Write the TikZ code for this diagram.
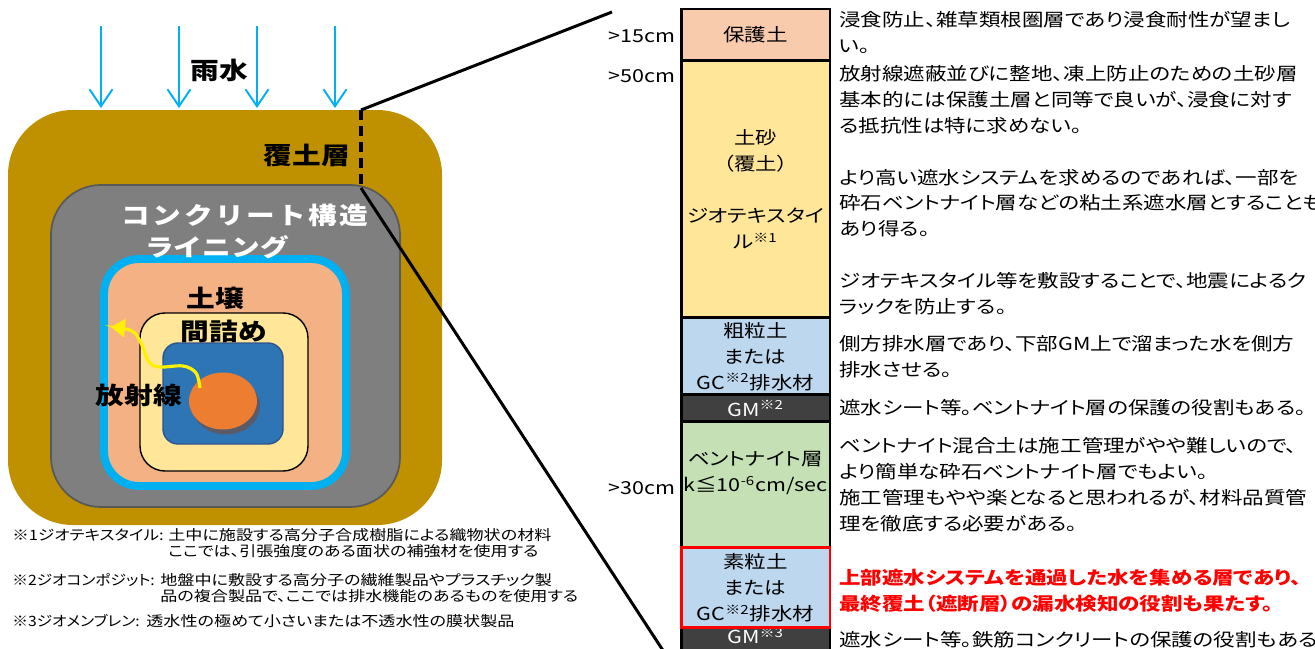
\documentclass[tikz,border=0pt]{standalone}
\usepackage{fontspec}
\setmainfont{Noto Sans CJK JP}[FakeStretch=1.2, RawFeature=+palt]
\newfontfamily\tagfont{Noto Sans CJK JP}[FakeStretch=1.2]
\usetikzlibrary{arrows.meta,shapes.geometric,positioning}

\definecolor{rainblue}{HTML}{00B0F0}
\definecolor{cover}{HTML}{BF9000}
\definecolor{concrete}{HTML}{7F7F7F}
\definecolor{concreteline}{HTML}{595959}
\definecolor{soil}{HTML}{F4B183}
\definecolor{filler}{HTML}{FFE699}
\definecolor{waste}{HTML}{2E75B6}
\definecolor{wasteline}{HTML}{2F528F}
\definecolor{source}{HTML}{ED7D31}
\definecolor{sourceshade}{HTML}{5B5B68}
\definecolor{hogo}{HTML}{F8CBAD}
\definecolor{sobi}{HTML}{BDD7EE}
\definecolor{gm}{HTML}{404040}
\definecolor{bento}{HTML}{C5E0B4}

\begin{document}
\begin{tikzpicture}[x=0.02cm, y=-0.02cm,
	rain/.style={draw=rainblue, line width=1.1pt, -{Straight Barb[length=0.34cm,width=0.46cm]}},
	tag/.style={inner sep=0pt, font=\tagfont\fontsize{13.6pt}{16pt}\selectfont\bfseries},
	cell/.style={draw, line width=1.7pt, minimum width=2.98cm, inner sep=0pt, outer sep=0pt,
		anchor=north, align=center},
	desc/.style={anchor=north west, align=left, inner sep=0pt},
	note/.style={anchor=west, inner sep=0pt, font=\fontsize{8.1pt}{9pt}\selectfont}]
	
	\useasboundingbox (0,0) rectangle (1315,649);
	
	\foreach \x in {101,179,257,335}
		\draw[rain] (\x,26) -- (\x,108);
	
	\fill[cover, rounded corners=1.3cm] (8,110) rectangle (442,525);
	\filldraw[fill=concrete, draw=concreteline, line width=1pt, rounded corners=1cm] (51,185) rectangle (400,507);
	\filldraw[fill=soil, draw=rainblue, line width=4.5pt, rounded corners=0.7cm] (104,259) rectangle (346,486);
	\filldraw[fill=filler, draw=black, line width=0.8pt, rounded corners=0.5cm] (140,313) rectangle (308,471);
	\filldraw[fill=waste, draw=wasteline, line width=0.8pt, rounded corners=0.3cm] (163,343) rectangle (283,444);
	
	\node[ellipse, fill=sourceshade, minimum width=1.36cm, minimum height=1.14cm] (shade) at (226,406) {};
	\node[ellipse, fill=source, minimum width=1.36cm, minimum height=1.14cm] (src) at (223,401) {};
	\coordinate (ray end) at (111,327);
	\draw[yellow, line width=1.8pt, -{Triangle[length=0.28cm,width=0.36cm]}]
		plot[smooth, tension=0.6] coordinates {(200,388) (196,373) (183,366) (160,367) (149,362) (141,343) (132,331) (ray end)};
	
	\begin{scope}[every node/.style={tag}]
	\node (ame) at (219,70) {雨水};
	\node (fukudo) at (307,155) {覆土層};
	\node[text=white] (conc) at (245,215) {\addfontfeature{LetterSpace=10}コンクリート構造};
	\node[text=white] (lining) at (217,247) {ライニング};
	\node (dojo) at (215,298) {土壌};
	\node (mazume) at (224,331) {間詰め};
	\node (hosha) at (139,395) {放射線};
	\end{scope}
	
	\coordinate (cut top) at (361,110);
	\coordinate (cut bot) at (361,188);
	\coordinate (zoom top) at (612,12);
	\coordinate (zoom bot) at (664,652);
	\draw[line width=2.2pt, dash pattern=on 0.2cm off 0.12cm] (cut top) -- (cut bot);
	\draw[line width=1.7pt] (cut top) -- (zoom top);
	\draw[line width=1.7pt] (cut bot) -- (zoom bot);
	
	\begin{scope}[every node/.style={font=\fontsize{10.2pt}{14.74pt}\selectfont}]
	\node[cell, fill=hogo, minimum height=1.04cm] (hogo) at (755.5,9) {保護土};
	\node[cell, fill=filler, minimum height=5.14cm] (dosha) at (hogo.south)
		{土砂\\（覆土）\\[14.74pt]ジオテキスタイ\\ル\textsuperscript{※1}};
	\node[cell, fill=sobi, minimum height=1.54cm] (sobi) at (dosha.south)
		{粗粒土\\または\\GC\textsuperscript{※2}排水材};
	\node[cell, fill=gm, text=white, minimum height=0.54cm] (gm1) at (sobi.south) {GM\textsuperscript{※2}};
	\node[cell, fill=bento, minimum height=2.52cm] (bento) at (gm1.south) {};
	\node[align=center, inner sep=0pt] (bentotxt) at ([yshift=0.23cm]bento.center)
		{ベントナイト層\\k≦10\textsuperscript{-6}cm/sec};
	\node[cell, fill=sobi, draw=red, minimum height=1.6cm] (sochi) at (bento.south)
		{素粒土\\または\\GC\textsuperscript{※2}排水材};
	\node[cell, fill=gm, text=white, minimum height=0.8cm, anchor=north] (gm2) at (sochi.south) {GM\textsuperscript{※3}\\[8pt]};
	\draw[red, line width=1.7pt] (sochi.north west) rectangle (sochi.south east);
	
	\node[anchor=east, inner sep=0pt] (d15) at (676,36) {>15cm};
	\node[anchor=east, inner sep=0pt] (d50) at (676,76) {>50cm};
	\node[anchor=east, inner sep=0pt] (d30) at (676,488) {>30cm};
	
	\foreach \t/\b in {9/61,61/318,318/395,395/422,422/548,548/628,628/680}
		\draw[gray, double=white, double distance=0.7pt, line width=0.4pt] (837,\t) rectangle (1340,\b);
	
	\node[desc] (t1) at (839,11) {浸食防止、雑草類根圏層であり浸食耐性が望まし\\い。};
	\node[desc] (t2) at (839,65) {放射線遮蔽並びに整地、凍上防止のための土砂層\\基本的には保護土層と同等で良いが、浸食に対す\\る抵抗性は特に求めない。\\[14.74pt]より高い遮水システムを求めるのであれば、一部を\\砕石ベントナイト層などの粘土系遮水層とすることも\\あり得る。\\[14.74pt]ジオテキスタイル等を敷設することで、地震によるク\\ラックを防止する。};
	\node[desc] (t3) at (839,335) {側方排水層であり、下部GM上で溜まった水を側方\\排水させる。};
	\node[desc] (t4) at (839,399) {遮水シート等。ベントナイト層の保護の役割もある。};
	\node[desc] (t5) at (839,437) {ベントナイト混合土は施工管理がやや難しいので、\\より簡単な砕石ベントナイト層でもよい。\\施工管理もやや楽となると思われるが、材料品質管\\理を徹底する必要がある。};
	\node[desc, text=red, font=\fontsize{10.2pt}{14.74pt}\selectfont\bfseries] (t6) at (839,569) {上部遮水システムを通過した水を集める層であり、\\最終覆土（遮断層）の漏水検知の役割も果たす。};
	\node[desc] (t7) at (839,631) {遮水シート等。鉄筋コンクリートの保護の役割もある};
	\end{scope}
	
	\node[note, xscale=0.97] (fn1) at (12,535) {※1ジオテキスタイル:};
	\node[note] (fn1a) at (168,535) {土中に施設する高分子合成樹脂による織物状の材料};
	\node[note] (fn1b) at (168,551) {ここでは、引張強度のある面状の補強材を使用する};
	\node[note, xscale=0.92] (fn2) at (12,580) {※2ジオコンポジット:};
	\node[note] (fn2a) at (160,580) {地盤中に敷設する高分子の繊維製品やプラスチック製};
	\node[note] (fn2b) at (160,596) {品の複合製品で、ここでは排水機能のあるものを使用する};
	\node[note, xscale=0.92] (fn3) at (12,621) {※3ジオメンブレン:};
	\node[note] (fn3a) at (146,621) {透水性の極めて小さいまたは不透水性の膜状製品};
	
\end{tikzpicture}
\end{document}
